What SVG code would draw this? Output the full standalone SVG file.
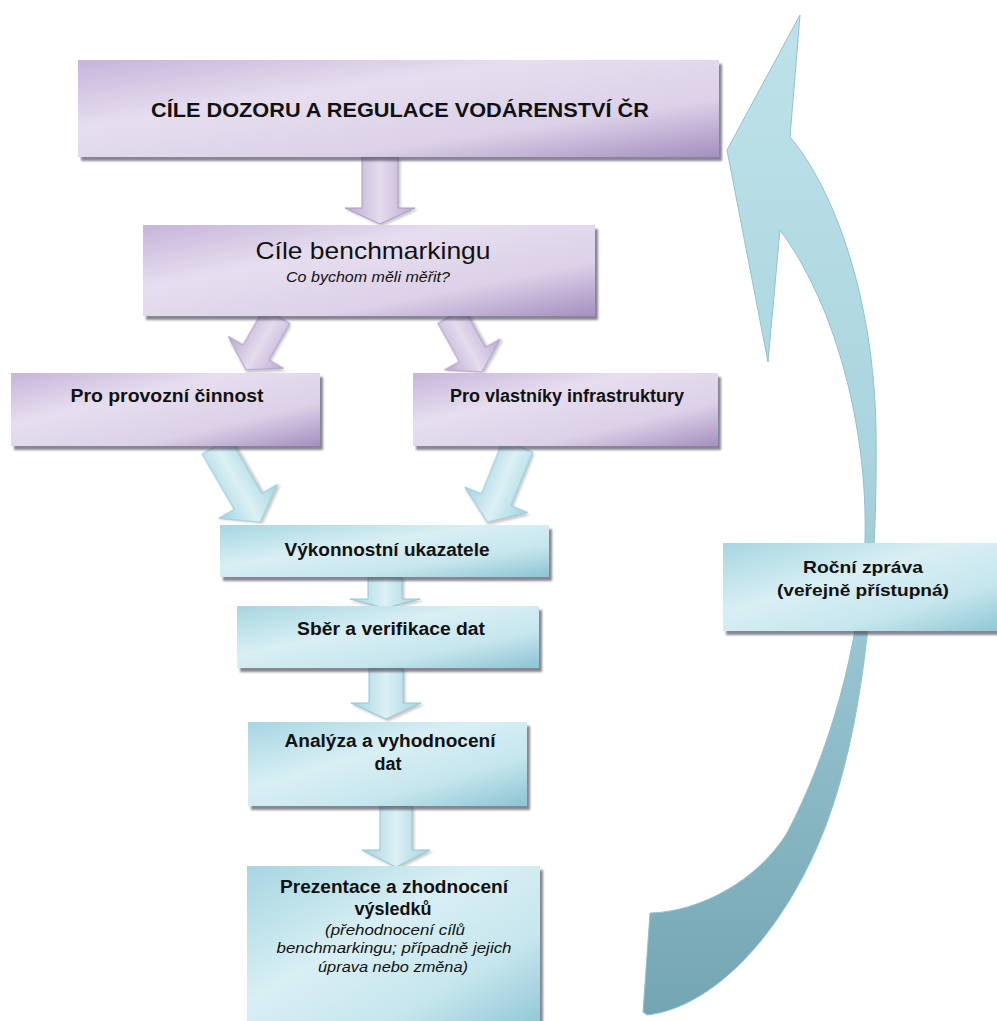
<svg xmlns="http://www.w3.org/2000/svg" width="997" height="1021" viewBox="0 0 997 1021">
<defs>
<linearGradient id="gP" x1="0" y1="0" x2="1" y2="1">
<stop offset="0" stop-color="#c6b4da"/><stop offset="0.35" stop-color="#e6deef"/><stop offset="0.7" stop-color="#dcd1e8"/><stop offset="1" stop-color="#a58fbf"/>
</linearGradient>
<linearGradient id="gC" x1="0" y1="0" x2="1" y2="1">
<stop offset="0" stop-color="#a6d6e1"/><stop offset="0.4" stop-color="#d8eff4"/><stop offset="0.7" stop-color="#c6e6ed"/><stop offset="1" stop-color="#8bc4d3"/>
</linearGradient>
<linearGradient id="gPA" x1="0" y1="0" x2="1" y2="0">
<stop offset="0" stop-color="#bba9d1"/><stop offset="0.5" stop-color="#e4dcee"/><stop offset="1" stop-color="#bba9d1"/>
</linearGradient>
<linearGradient id="gCA" x1="0" y1="0" x2="1" y2="0">
<stop offset="0" stop-color="#a2d3df"/><stop offset="0.5" stop-color="#dcf0f5"/><stop offset="1" stop-color="#a2d3df"/>
</linearGradient>
<linearGradient id="gBig" x1="0" y1="0" x2="0" y2="1">
<stop offset="0" stop-color="#bfe2ea"/><stop offset="0.45" stop-color="#a9d4de"/><stop offset="1" stop-color="#74a5b3"/>
</linearGradient>
<filter id="sh" x="-5%" y="-10%" width="112%" height="130%">
<feDropShadow dx="3" dy="4" stdDeviation="1.2" flood-color="#4a4458" flood-opacity="0.65"/>
</filter>
<filter id="shs" x="-20%" y="-20%" width="150%" height="150%">
<feDropShadow dx="2" dy="2" stdDeviation="1" flood-color="#666" flood-opacity="0.35"/>
</filter>
</defs>
<style>
.bp{fill:url(#gP);filter:url(#sh)}
.bc{fill:url(#gC);filter:url(#sh)}
.ap{fill:url(#gPA);stroke:#ad9bc4;stroke-width:1;filter:url(#shs)}
.ac{fill:url(#gCA);stroke:#93c7d4;stroke-width:1;filter:url(#shs)}
text{font-family:"Liberation Sans",Arial,sans-serif;fill:#111;text-anchor:middle}
.b{font-weight:bold}
.i{font-style:italic}
</style>
<rect width="997" height="1021" fill="#fff"/>

<g id="connectors">
<path id="feedback" d="M800,15 L790,137 C835,190 874,300 876,430 C878,600 860,740 823,833 C780,940 710,1008 647,1015 L643,1012 L650,913 C700,912 758,880 787,833 C828,755 860,650 865,540 C868,420 832,300 780,230 L768,362 L727,150 Z" fill="url(#gBig)" stroke="#8fc2cf" stroke-width="1"/>
<path class="ap" transform="translate(380,157)" d="M-18,0 L18,0 L18,51 L35,51 L0,67 L-35,51 L-18,51 Z"/>
<path class="ap" transform="translate(277,316) rotate(30)" d="M-15,0 L15,0 L15,42 L32,42 L0,62 L-32,42 L-15,42 Z"/>
<path class="ap" transform="translate(451,316) rotate(-29)" d="M-15,0 L15,0 L15,44 L32,44 L0,64 L-32,44 L-15,44 Z"/>
<path class="ac" transform="translate(216,446) rotate(-30)" d="M-16,0 L16,0 L16,64 L34,64 L0,88 L-34,64 L-16,64 Z"/>
<path class="ac" transform="translate(518,446) rotate(22)" d="M-16,0 L16,0 L16,58 L34,58 L0,82 L-34,58 L-16,58 Z"/>
<path class="ac" transform="translate(385,577)" d="M-17,0 L17,0 L17,22 L35,22 L0,31 L-35,22 L-17,22 Z"/>
<path class="ac" transform="translate(386,668)" d="M-17,0 L17,0 L17,35 L35,35 L0,51 L-35,35 L-17,35 Z"/>
<path class="ac" transform="translate(396,806)" d="M-16,0 L16,0 L16,44 L34,44 L0,61 L-34,44 L-16,44 Z"/>
</g>

<g id="n-cile-dozoru">
<rect class="bp" x="78" y="60" width="641" height="97"/>
<text class="b" x="400" y="117" font-size="20" textLength="498" lengthAdjust="spacingAndGlyphs">CÍLE DOZORU A REGULACE VODÁRENSTVÍ ČR</text>
</g>

<g id="n-cile-benchmarkingu">
<rect class="bp" x="143" y="225" width="452" height="91"/>
<text x="373" y="259" font-size="24" textLength="235" lengthAdjust="spacingAndGlyphs">Cíle benchmarkingu</text>
<text class="i" x="368" y="282" font-size="15" textLength="164" lengthAdjust="spacingAndGlyphs">Co bychom měli měřit?</text>
</g>

<g id="n-provozni">
<rect class="bp" x="11" y="373" width="309" height="73"/>
<text class="b" x="167" y="402" font-size="18" textLength="193" lengthAdjust="spacingAndGlyphs">Pro provozní činnost</text>
</g>

<g id="n-vlastniky">
<rect class="bp" x="413" y="373" width="305" height="73"/>
<text class="b" x="567" y="402" font-size="18" textLength="234" lengthAdjust="spacingAndGlyphs">Pro vlastníky infrastruktury</text>
</g>

<g id="n-ukazatele">
<rect class="bc" x="220" y="525" width="329" height="52"/>
<text class="b" x="387" y="556" font-size="18" textLength="205" lengthAdjust="spacingAndGlyphs">Výkonnostní ukazatele</text>
</g>

<g id="n-sber">
<rect class="bc" x="237" y="606" width="302" height="62"/>
<text class="b" x="391" y="635" font-size="18" textLength="188" lengthAdjust="spacingAndGlyphs">Sběr a verifikace dat</text>
</g>

<g id="n-analyza">
<rect class="bc" x="248" y="722" width="279" height="84"/>
<text class="b" x="390" y="747" font-size="18" textLength="211" lengthAdjust="spacingAndGlyphs">Analýza a vyhodnocení</text>
<text class="b" x="388" y="770" font-size="18">dat</text>
</g>

<g id="n-prezentace">
<rect class="bc" x="247" y="866" width="293" height="170"/>
<text class="b" x="394" y="893" font-size="18" textLength="228" lengthAdjust="spacingAndGlyphs">Prezentace a zhodnocení</text>
<text class="b" x="393" y="915" font-size="18">výsledků</text>
<text class="i" x="395" y="935" font-size="15" textLength="140" lengthAdjust="spacingAndGlyphs">(přehodnocení cílů</text>
<text class="i" x="394" y="953" font-size="15" textLength="235" lengthAdjust="spacingAndGlyphs">benchmarkingu; případně jejich</text>
<text class="i" x="393" y="972" font-size="15" textLength="150" lengthAdjust="spacingAndGlyphs">úprava nebo změna)</text>
</g>

<g id="n-rocni-zprava">
<rect class="bc" x="723" y="543" width="290" height="88"/>
<text class="b" x="863" y="573" font-size="17" textLength="120" lengthAdjust="spacingAndGlyphs">Roční zpráva</text>
<text class="b" x="863" y="596" font-size="17" textLength="172" lengthAdjust="spacingAndGlyphs">(veřejně přístupná)</text>
</g>
</svg>
